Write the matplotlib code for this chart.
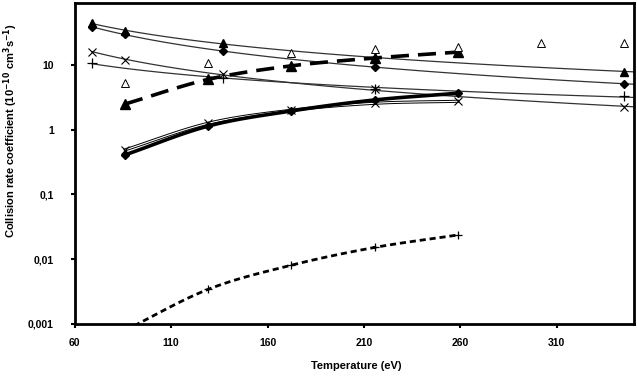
import numpy as np
import matplotlib
matplotlib.use("Agg")
import matplotlib.pyplot as plt

plt.rcParams['font.family'] = ['Liberation Sans', 'DejaVu Sans']
plt.rcParams['font.weight'] = 'bold'

# temperatures (eV) of the data columns
T_all = [86.2, 129.3, 172.4, 215.5, 258.6]

# thin-line series (power-law trendlines)
tri_T = [69, 86.2, 137, 345]
tri_k = [44, 33.5, 21.6, 7.9]
dia_T = [69, 86.2, 137, 215.5, 345]
dia_k = [38, 30, 16.4, 9.3, 5.1]
cross_T = [69, 86.2, 137, 215.5, 345]
cross_k = [16, 11.9, 7.3, 4.2, 2.22]
plus_T = [69, 137, 215.5, 345]
plus_k = [10.6, 6.3, 4.3, 3.3]

# open triangles, no line
open_T = [86.2, 129.3, 172.4, 215.5, 258.6, 301.7, 344.8]
open_k = [5.3, 10.6, 15.2, 17.5, 19.2, 21.6, 21.6]

# thick dashed, filled triangles
dash_k = [2.5, 6.0, 9.7, 12.8, 15.8]
# thick solid, diamonds
solid_k = [0.41, 1.14, 1.95, 2.88, 3.66]
# double thin line, crosses
dbl_k = [0.49, 1.26, 2.0, 2.56, 2.75]
# short dashed, plus
low_k = [0.0008, 0.00344, 0.0081, 0.0152, 0.0237]


def smooth(x, y, n=30):
    # catmull-rom through the points in (x, log y)
    x = np.asarray(x, float)
    ly = np.log10(np.asarray(y, float))
    px = np.concatenate([[2*x[0]-x[1]], x, [2*x[-1]-x[-2]]])
    py = np.concatenate([[2*ly[0]-ly[1]], ly, [2*ly[-1]-ly[-2]]])
    t = np.linspace(0, 1, n)
    xs, ys = [], []
    for i in range(1, len(px)-2):
        for p, out in ((px, xs), (py, ys)):
            p0, p1, p2, p3 = p[i-1], p[i], p[i+1], p[i+2]
            out.append(0.5*((2*p1) + (-p0+p2)*t + (2*p0-5*p1+4*p2-p3)*t**2
                            + (-p0+3*p1-3*p2+p3)*t**3))
    return np.concatenate(xs), 10**np.concatenate(ys)


def power_fit(x, y, x0, x1):
    b, a = np.polyfit(np.log10(x), np.log10(y), 1)
    xx = np.linspace(x0, x1, 100)
    return xx, 10**(a + b*np.log10(xx))


fig = plt.figure(figsize=(6.37, 3.76), dpi=100)
ax = fig.add_axes([74.7/637, 1-324/376, (634-74.7)/637, (324-3)/376])

for tx, ky in ((tri_T, tri_k), (dia_T, dia_k), (cross_T, cross_k), (plus_T, plus_k)):
    xx, yy = power_fit(tx, ky, tx[0], 350)
    ax.plot(xx, yy, color='0.2', lw=0.9, zorder=2)

ax.plot(tri_T, tri_k, ls='none', marker='^', ms=6, color='k', zorder=4)
ax.plot(dia_T, dia_k, ls='none', marker='D', ms=4.5, color='k', zorder=4)
ax.plot(cross_T, cross_k, ls='none', marker='x', ms=5.5, mew=0.8, color='k', zorder=4)
ax.plot(plus_T, plus_k, ls='none', marker='+', ms=6.5, mew=0.9, color='k', zorder=4)

ax.plot(open_T, open_k, ls='none', marker='^', ms=6, mew=0.7, mfc='white', mec='k', zorder=5)

xs, ys = smooth(T_all, dash_k)
ax.plot(xs, ys, color='k', lw=2.6, dashes=(5, 2.5), zorder=3)
ax.plot(T_all, dash_k, ls='none', marker='^', ms=6.5, color='k', zorder=4)

xs, ys = smooth(T_all, dbl_k)
ax.plot(xs, ys, color='k', lw=2.2, zorder=3)
ax.plot(xs, ys, color='white', lw=0.8, zorder=3)
ax.plot(T_all, dbl_k, ls='none', marker='x', ms=5.5, mew=0.8, color='k', zorder=4)

xs, ys = smooth(T_all, solid_k)
ax.plot(xs, ys, color='k', lw=2.6, zorder=3)
ax.plot(T_all, solid_k, ls='none', marker='D', ms=4.5, color='k', zorder=4)

xs, ys = smooth(T_all, low_k)
ax.plot(xs, ys, color='k', lw=2.0, dashes=(2.2, 1.4), zorder=3)
ax.plot(T_all, low_k, ls='none', marker='+', ms=6, mew=0.9, color='k', zorder=4)

ax.set_yscale('log')
ax.set_xlim(60, 350)
ax.set_ylim(0.001, 10**1.957)
ax.set_xticks([60, 110, 160, 210, 260, 310])
ax.set_yticks([0.001, 0.01, 0.1, 1, 10])
ax.set_yticklabels(['0,001', '0,01', '0,1', '1', '10'])
ax.minorticks_off()
ax.tick_params(axis='both', direction='out', length=3, width=1.5, labelsize=7.5)
ax.tick_params(axis='x', pad=7)
ax.tick_params(axis='y', pad=12)
for s in ax.spines.values():
    s.set_linewidth(2)

fig.text(356/637, 1-366/376, 'Temperature (eV)', ha='center', va='center',
         fontsize=8, fontweight='bold')
fig.text(11/637, 1-131/376, 'Collision rate coefficient (10$^{\\mathbf{-10}}$ cm$^{\\mathbf{3}}$s$^{\\mathbf{-1}}$)',
         ha='center', va='center', rotation=90, fontsize=8, fontweight='bold')

fig.savefig('out.png', dpi=100)
